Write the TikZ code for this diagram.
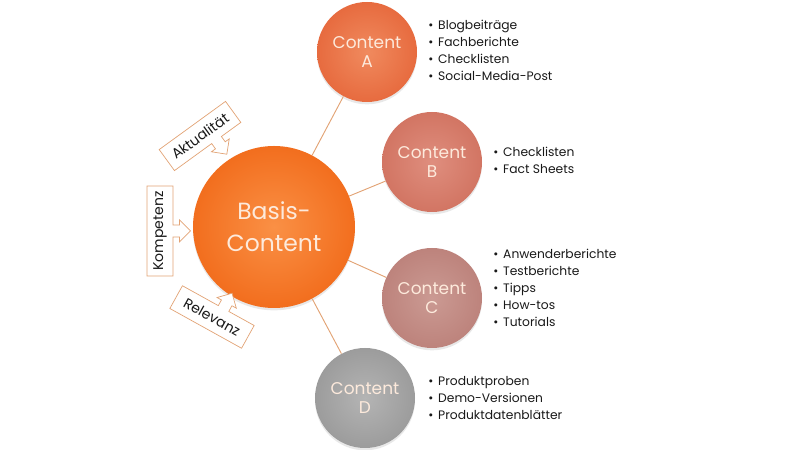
\documentclass[tikz,border=0pt]{standalone}
\usepackage{fontspec}
\setmainfont{Poppins}
\usetikzlibrary{positioning,shadows}
\definecolor{hubIn}{HTML}{FA9045}
\definecolor{hubOut}{HTML}{F26E1E}
\definecolor{aIn}{HTML}{F08A5E}
\definecolor{aOut}{HTML}{E76B3F}
\definecolor{bIn}{HTML}{DF8E7E}
\definecolor{bOut}{HTML}{D27563}
\definecolor{cIn}{HTML}{CB9A93}
\definecolor{cOut}{HTML}{BD837C}
\definecolor{dIn}{HTML}{B4B4B4}
\definecolor{dOut}{HTML}{9C9C9C}
\definecolor{creme}{HTML}{FDEADC}
\definecolor{linie}{HTML}{E2A375}
\tikzset{
  bubble/.style={circle,minimum size=3cm,inner sep=0pt,align=center,text=creme,
    font=\fontsize{14.5}{16}\selectfont,
    drop shadow={opacity=0.18,shadow xshift=0pt,shadow yshift=-2pt}},
  hub/.style={bubble,minimum size=4.86cm,inner color=hubIn,outer color=hubOut,
    font=\fontsize{20}{27}\selectfont},
  link/.style={draw=linie,line width=0.8pt},
  liste/.style={inner sep=0pt,align=left,text=black!90,font=\fontsize{10.5}{14.5}\selectfont},
  callbox/.style={draw=linie,fill=white,line width=0.6pt,line join=miter},
  calltext/.style={inner sep=0pt,text=black!90,font=\fontsize{12}{14}\selectfont}
}
% Kasten mit Pfeil: Name, Mitte, Winkel, halbe Breite, Pfeilversatz, Seite, Text
\newcommand{\pfeilbox}[7]{%
  \begin{scope}[shift={#2},rotate=#3]
    \draw[callbox,yscale=#6] (-#4,-13) -- ({#5-6},-13) -- ({#5-6},-19.5) -- ({#5-11},-19.5)
      -- (#5,-30.5) -- ({#5+11},-19.5) -- ({#5+6},-19.5) -- ({#5+6},-13) -- (#4,-13)
      -- (#4,13) -- (-#4,13) -- cycle;
    \node[calltext,rotate=#3] (#1) at (0,0) {#7};
  \end{scope}}
\begin{document}
\begin{tikzpicture}[x=0.03cm,y=0.03cm]
\useasboundingbox (0,0) rectangle (800,450);

% Kreise
\node[hub] (basis) at (274,223) {Basis-\\Content};
\node[bubble,inner color=aIn,outer color=aOut] (A) at (367,398) {Content\\A};
\node[bubble,inner color=bIn,outer color=bOut] (B) at (432,288) {Content\\B};
\node[bubble,inner color=cIn,outer color=cOut] (C) at (432,152) {Content\\C};
\node[bubble,inner color=dIn,outer color=dOut] (D) at (365,52) {Content\\D};

\draw[link] (basis) -- (A);
\draw[link] (basis) -- (B);
\draw[link] (basis) -- (C);
\draw[link] (basis) -- (D);

% Listen
\node[liste,right=0.33cm of A,yshift=0.06cm] (listeA) {\textbullet\hspace{4pt}Blogbeiträge\\
  \textbullet\hspace{4pt}Fachberichte\\\textbullet\hspace{4pt}Checklisten\\
  \textbullet\hspace{4pt}Social-Media-Post};
\node[liste,right=0.33cm of B,yshift=0.04cm] (listeB) {\textbullet\hspace{4pt}Checklisten\\
  \textbullet\hspace{4pt}Fact Sheets};
\node[liste,right=0.33cm of C,yshift=0.3cm] (listeC) {\textbullet\hspace{4pt}Anwenderberichte\\
  \textbullet\hspace{4pt}Testberichte\\\textbullet\hspace{4pt}Tipps\\
  \textbullet\hspace{4pt}How-tos\\\textbullet\hspace{4pt}Tutorials};
\node[liste,right=0.39cm of D] (listeD) {\textbullet\hspace{4pt}Produktproben\\
  \textbullet\hspace{4pt}Demo-Versionen\\\textbullet\hspace{4pt}Produktdatenblätter};

% Pfeilkaesten
\pfeilbox{aktualitaet}{(200,314)}{36}{41}{11}{1}{Aktualität}
\pfeilbox{kompetenz}{(160,219)}{90}{45}{0}{1}{Kompetenz}
\pfeilbox{relevanz}{(212,133)}{-29}{41}{6}{-1}{Relevanz}
\end{tikzpicture}
\end{document}
